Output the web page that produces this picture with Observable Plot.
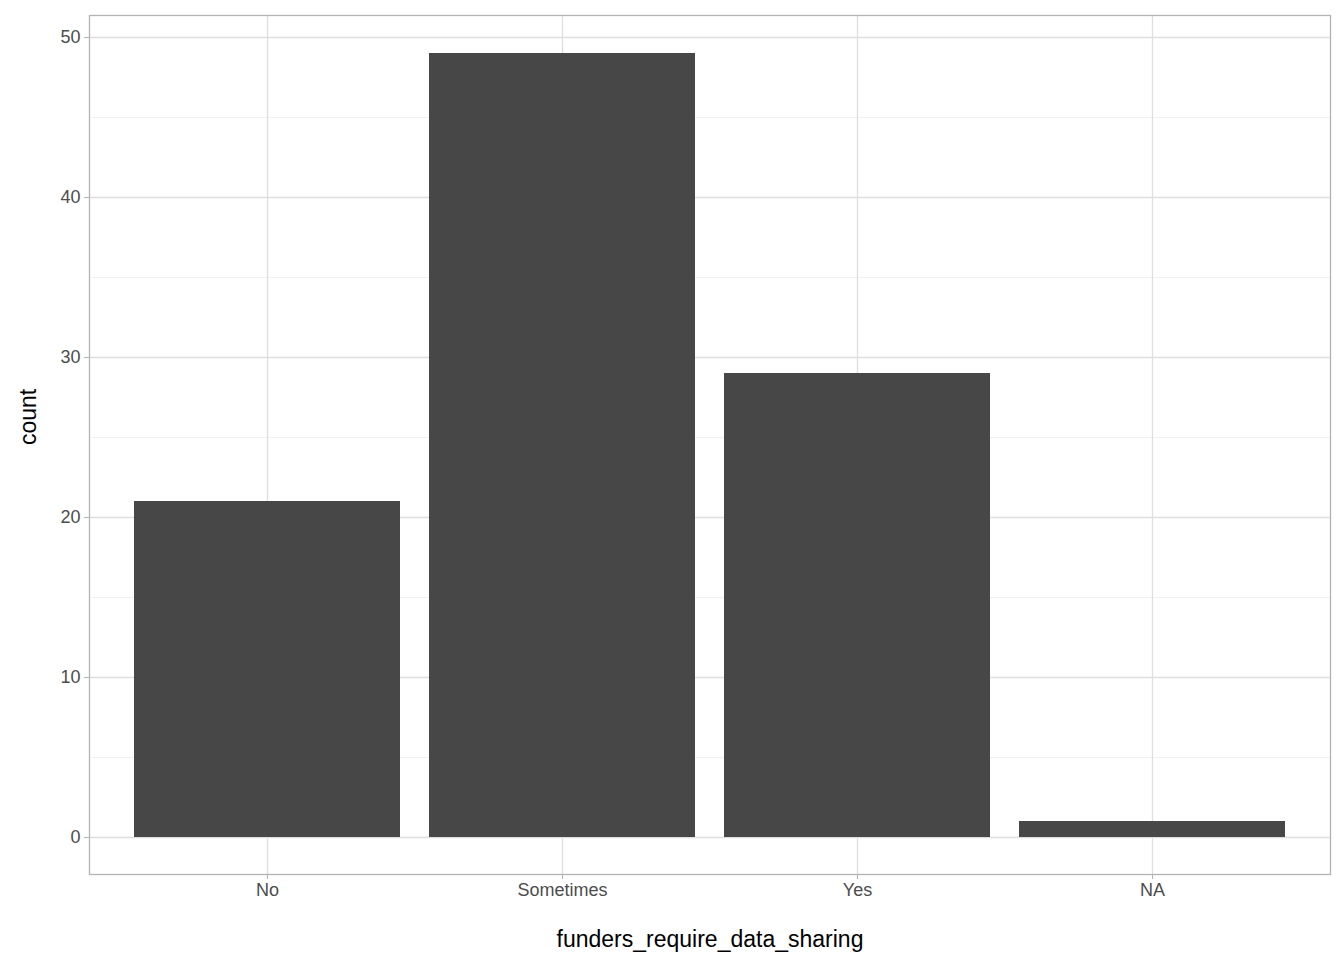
<!DOCTYPE html>
<html><head>
<script src="https://cdn.jsdelivr.net/npm/d3@7"></script>
<script src="https://cdn.jsdelivr.net/npm/@observablehq/plot@0.6"></script>
<style>body{margin:0;background:#fff}</style>
</head><body>
<div id="chart"></div>
<script>
const categories = ["No", "Sometimes", "Yes", "NA"];
const counts = [21, 49, 29, 1];
const majorTicks = [0, 10, 20, 30, 40, 50];
const minorTicks = [5, 15, 25, 35, 45];

const data = categories.map((c, i) => ({cat: c, n: counts[i]}));

const plot = Plot.plot({
  width: 1344, height: 960,
  marginLeft: 89, marginRight: 14, marginTop: 15, marginBottom: 86,
  style: {fontFamily: "Liberation Sans, Arial, sans-serif", background: "#fff"},
  x: {domain: categories, paddingInner: 0.1, paddingOuter: 0.15, label: null},
  y: {domain: [-2.3125, 51.375], label: null},
  marks: [
    Plot.ruleY(minorTicks, {stroke: "#ebebeb", strokeWidth: 0.7}),
    Plot.ruleY(majorTicks, {stroke: "#dedede", strokeWidth: 1.3}),
    Plot.ruleX(categories, {stroke: "#dedede", strokeWidth: 1.3}),
    Plot.barY(data, {x: "cat", y: "n", fill: "#474747"}),
    Plot.frame({stroke: "#b3b3b3", strokeWidth: 1.3}),
    Plot.axisX({tickSize: 5, stroke: "#b3b3b3", tickPadding: 4, fontSize: 18, color: "#4d4d4d", label: null}),
    Plot.axisY(majorTicks, {tickSize: 5, stroke: "#b3b3b3", tickPadding: 4, fontSize: 18, color: "#4d4d4d", label: null}),
    Plot.text(["funders_require_data_sharing"], {frameAnchor: "bottom", dy: 72, fontSize: 23, fill: "#000"}),
    Plot.text(["count"], {frameAnchor: "left", dx: -61, rotate: -90, fontSize: 23, fill: "#000"})
  ]
});
plot.querySelectorAll("g[aria-label='x-axis tick label'] text, g[aria-label='y-axis tick label'] text").forEach(t => t.setAttribute("fill", "#4d4d4d"));
document.querySelector("#chart").append(plot);
</script>
</body></html>
